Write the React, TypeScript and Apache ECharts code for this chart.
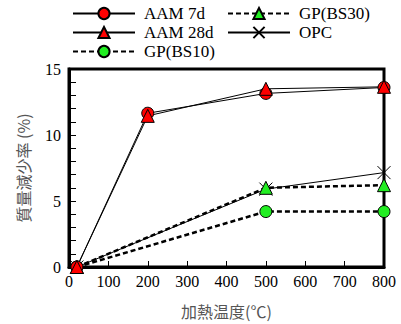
import React, { useEffect, useRef } from "react";
import * as echarts from "echarts";

const temps7 = [20, 200, 500, 800];
const aam7d = [0, 11.65, 13.15, 13.6];
const aam28d = [0, 11.45, 13.5, 13.65];
const tempsGP = [20, 500, 800];
const gpBS10 = [0, 4.2, 4.2];
const gpBS30 = [0, 6.0, 6.2];
const opc = [0, 5.9, 7.15];
const xTicks = [0, 800, 100];
const yTicks = [0, 15, 5];

const pairs = (xs: number[], ys: number[]) => xs.map((x, i) => [x, ys[i]]);

const RED = "#ff0000";
const GREEN = "#22ee22";
const SERIF = "'Liberation Serif', 'Times New Roman', serif";
const CJK = "'Noto Sans CJK JP', sans-serif";

export default function App() {
  const ref = useRef<HTMLDivElement>(null);
  useEffect(() => {
    const chart = echarts.init(ref.current!, null, { renderer: "svg" });
    const solid = { color: "#000", width: 1, type: "solid" as const };
    const dashed = { color: "#000", width: 2.5, type: [5, 3] as any };
    const mk = (fill: string) => ({ color: fill, borderColor: "#000", borderWidth: 1, opacity: 1 });
    const legendBase = {
      orient: "vertical" as const,
      top: 5,
      itemWidth: 62,
      itemHeight: 14,
      itemGap: 2,
      padding: 0,
      textStyle: { fontFamily: SERIF, fontSize: 17, color: "#000", padding: [0, 0, 0, 4] },
    };
    chart.setOption({
      animation: false,
      textStyle: { fontFamily: SERIF },
      legend: [
        { ...legendBase, left: 72, data: ["AAM 7d", "AAM 28d", "GP(BS10)"] },
        { ...legendBase, left: 227, data: ["GP(BS30)", "OPC"] },
      ],
      grid: {
        left: 69,
        right: 17,
        top: 69,
        bottom: 48,
        show: true,
        borderColor: "#000",
        borderWidth: 3,
        backgroundColor: "transparent",
      },
      xAxis: {
        type: "value",
        min: xTicks[0],
        max: xTicks[1],
        interval: xTicks[2],
        name: "加熱温度(℃)",
        nameLocation: "middle",
        nameGap: 36,
        nameTextStyle: { fontFamily: CJK, fontSize: 16, color: "#555" },
        axisLine: { lineStyle: { color: "#000", width: 3 } },
        axisTick: { inside: true, length: 6, lineStyle: { color: "#000", width: 1 } },
        splitLine: { show: false },
        axisLabel: { fontFamily: SERIF, fontSize: 16, color: "#000", margin: 6 },
      },
      yAxis: {
        type: "value",
        min: yTicks[0],
        max: yTicks[1],
        interval: yTicks[2],
        name: "質量減少率 (%)",
        nameLocation: "middle",
        nameGap: 38,
        nameRotate: 90,
        nameTextStyle: { fontFamily: CJK, fontSize: 16, color: "#555" },
        axisLine: { lineStyle: { color: "#000", width: 3 } },
        axisTick: { inside: true, length: 7, lineStyle: { color: "#000", width: 1 } },
        minorTick: { show: true, splitNumber: 5, length: 7, lineStyle: { color: "#000", width: 1 } },
        splitLine: { show: false },
        axisLabel: { fontFamily: SERIF, fontSize: 16, color: "#000", margin: 8 },
      },
      series: [
        {
          name: "OPC",
          type: "line",
          data: pairs(tempsGP, opc),
          symbol: "path://M0,0L10,10M10,0L0,10",
          symbolSize: 13,
          lineStyle: solid,
          itemStyle: { color: "none", borderColor: "#000", borderWidth: 1 },
          z: 2,
        },
        {
          name: "GP(BS10)",
          type: "line",
          data: pairs(tempsGP, gpBS10),
          symbol: "circle",
          symbolSize: 12,
          lineStyle: dashed,
          itemStyle: mk(GREEN),
          z: 3,
        },
        {
          name: "GP(BS30)",
          type: "line",
          data: pairs(tempsGP, gpBS30),
          symbol: "triangle",
          symbolSize: 13,
          lineStyle: dashed,
          itemStyle: mk(GREEN),
          z: 3,
        },
        {
          name: "AAM 7d",
          type: "line",
          data: pairs(temps7, aam7d),
          symbol: "circle",
          symbolSize: 12,
          lineStyle: solid,
          itemStyle: mk(RED),
          z: 4,
        },
        {
          name: "AAM 28d",
          type: "line",
          data: pairs(temps7, aam28d),
          symbol: "triangle",
          symbolSize: 13,
          lineStyle: solid,
          itemStyle: mk(RED),
          z: 4,
        },
      ],
    });
    return () => chart.dispose();
  }, []);
  return <div ref={ref} style={{ width: 401, height: 324, position: "absolute", left: 0, top: 0 }} />;
}
